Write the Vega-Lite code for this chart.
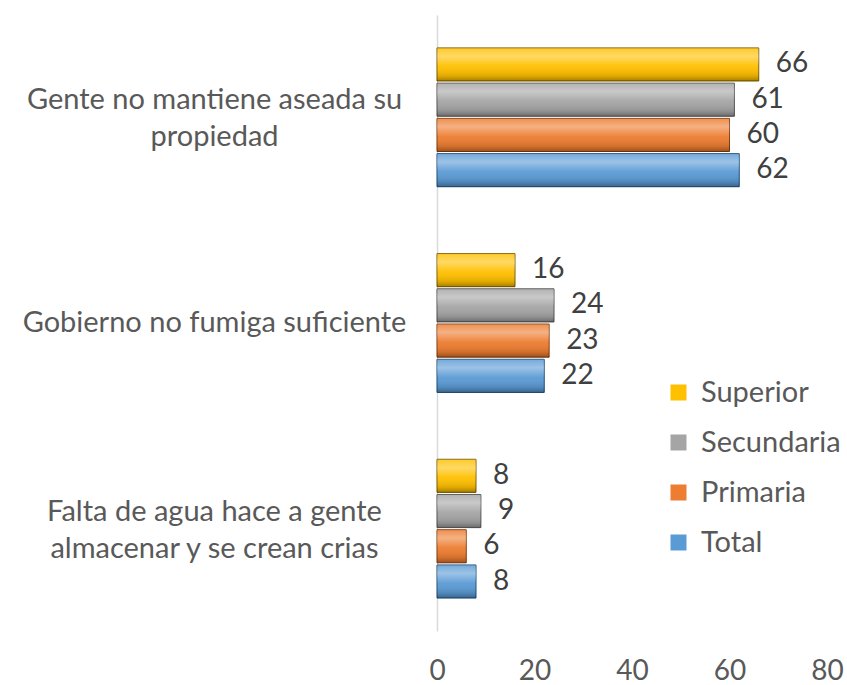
{
  "$schema": "https://vega.github.io/schema/vega-lite/v6.json",
  "width": 390,
  "height": 616,
  "autosize": {"type": "none"},
  "padding": {"left": 437, "top": 15, "right": 20, "bottom": 54},
  "background": "white",
  "config": {"view": {"stroke": null}, "font": "Lato"},
  "data": {"values": [
    {"cat": "Gente no mantiene aseada su propiedad", "serie": "Superior", "v": 66},
    {"cat": "Gente no mantiene aseada su propiedad", "serie": "Secundaria", "v": 61},
    {"cat": "Gente no mantiene aseada su propiedad", "serie": "Primaria", "v": 60},
    {"cat": "Gente no mantiene aseada su propiedad", "serie": "Total", "v": 62},
    {"cat": "Gobierno no fumiga suficiente", "serie": "Superior", "v": 16},
    {"cat": "Gobierno no fumiga suficiente", "serie": "Secundaria", "v": 24},
    {"cat": "Gobierno no fumiga suficiente", "serie": "Primaria", "v": 23},
    {"cat": "Gobierno no fumiga suficiente", "serie": "Total", "v": 22},
    {"cat": "Falta de agua hace a gente almacenar y se crean crias", "serie": "Superior", "v": 8},
    {"cat": "Falta de agua hace a gente almacenar y se crean crias", "serie": "Secundaria", "v": 9},
    {"cat": "Falta de agua hace a gente almacenar y se crean crias", "serie": "Primaria", "v": 6},
    {"cat": "Falta de agua hace a gente almacenar y se crean crias", "serie": "Total", "v": 8}
  ]},
  "encoding": {
    "y": {
      "field": "cat", "type": "nominal", "sort": null,
      "scale": {"paddingInner": 0.325, "paddingOuter": 0.16},
      "axis": {
        "title": null, "ticks": false, "domainColor": "#D9D9D9", "domainWidth": 1.5,
        "labelAlign": "center", "labelPadding": 223, "labelFontSize": 29, "labelColor": "#595959",
        "labelLineHeight": 37, "labelLimit": 500,
        "labelOffset": {"condition": {"test": "datum.label == 'Gobierno no fumiga suficiente'", "value": 0}, "value": -17},
        "labelExpr": "datum.label == 'Gente no mantiene aseada su propiedad' ? ['Gente no mantiene aseada su','propiedad'] : datum.label == 'Falta de agua hace a gente almacenar y se crean crias' ? ['Falta de agua hace a gente','almacenar y se crean crias'] : datum.label"
      }
    },
    "yOffset": {"field": "serie", "type": "nominal", "sort": ["Superior", "Secundaria", "Primaria", "Total"], "scale": {"paddingInner": 0.06}},
    "x": {
      "field": "v", "type": "quantitative",
      "scale": {"domain": [0, 80]},
      "axis": {"title": null, "domain": false, "ticks": false, "grid": false, "values": [0, 20, 40, 60, 80], "labelFontSize": 28, "labelColor": "#595959", "labelPadding": 26, "labelFlush": false}
    }
  },
  "layer": [
    {
      "mark": {"type": "bar", "strokeWidth": 1},
      "encoding": {
        "color": {
          "field": "serie", "type": "nominal",
          "scale": {"domain": ["Superior", "Secundaria", "Primaria", "Total"], "range": ["#FFC000", "#A5A5A5", "#ED7D31", "#5B9BD5"]},
          "legend": {
            "title": null, "orient": "none", "legendX": 227, "legendY": 363,
            "symbolType": "square", "symbolSize": 256, "symbolStrokeWidth": 0,
            "labelFontSize": 29, "labelColor": "#595959", "rowPadding": 20, "labelOffset": 8
          }
        },
        "stroke": {
          "field": "serie", "type": "nominal",
          "scale": {"domain": ["Superior", "Secundaria", "Primaria", "Total"], "range": ["#7F6000", "#525252", "#843C0C", "#1F4E79"]},
          "legend": null
        }
      }
    },
    {
      "mark": {
        "type": "bar",
        "fill": {
          "gradient": "linear", "x1": 0, "y1": 0, "x2": 0, "y2": 1,
          "stops": [
            {"offset": 0, "color": "rgba(255,255,255,0.15)"},
            {"offset": 0.25, "color": "rgba(255,255,255,0.4)"},
            {"offset": 0.55, "color": "rgba(255,255,255,0.05)"},
            {"offset": 0.85, "color": "rgba(0,0,0,0.12)"},
            {"offset": 1, "color": "rgba(0,0,0,0.35)"}
          ]
        }
      },
      "encoding": {}
    },
    {
      "mark": {"type": "text", "align": "left", "baseline": "middle", "dx": 17, "fontSize": 28, "color": "#404040"},
      "encoding": {"text": {"field": "v", "type": "quantitative"}}
    }
  ]
}
